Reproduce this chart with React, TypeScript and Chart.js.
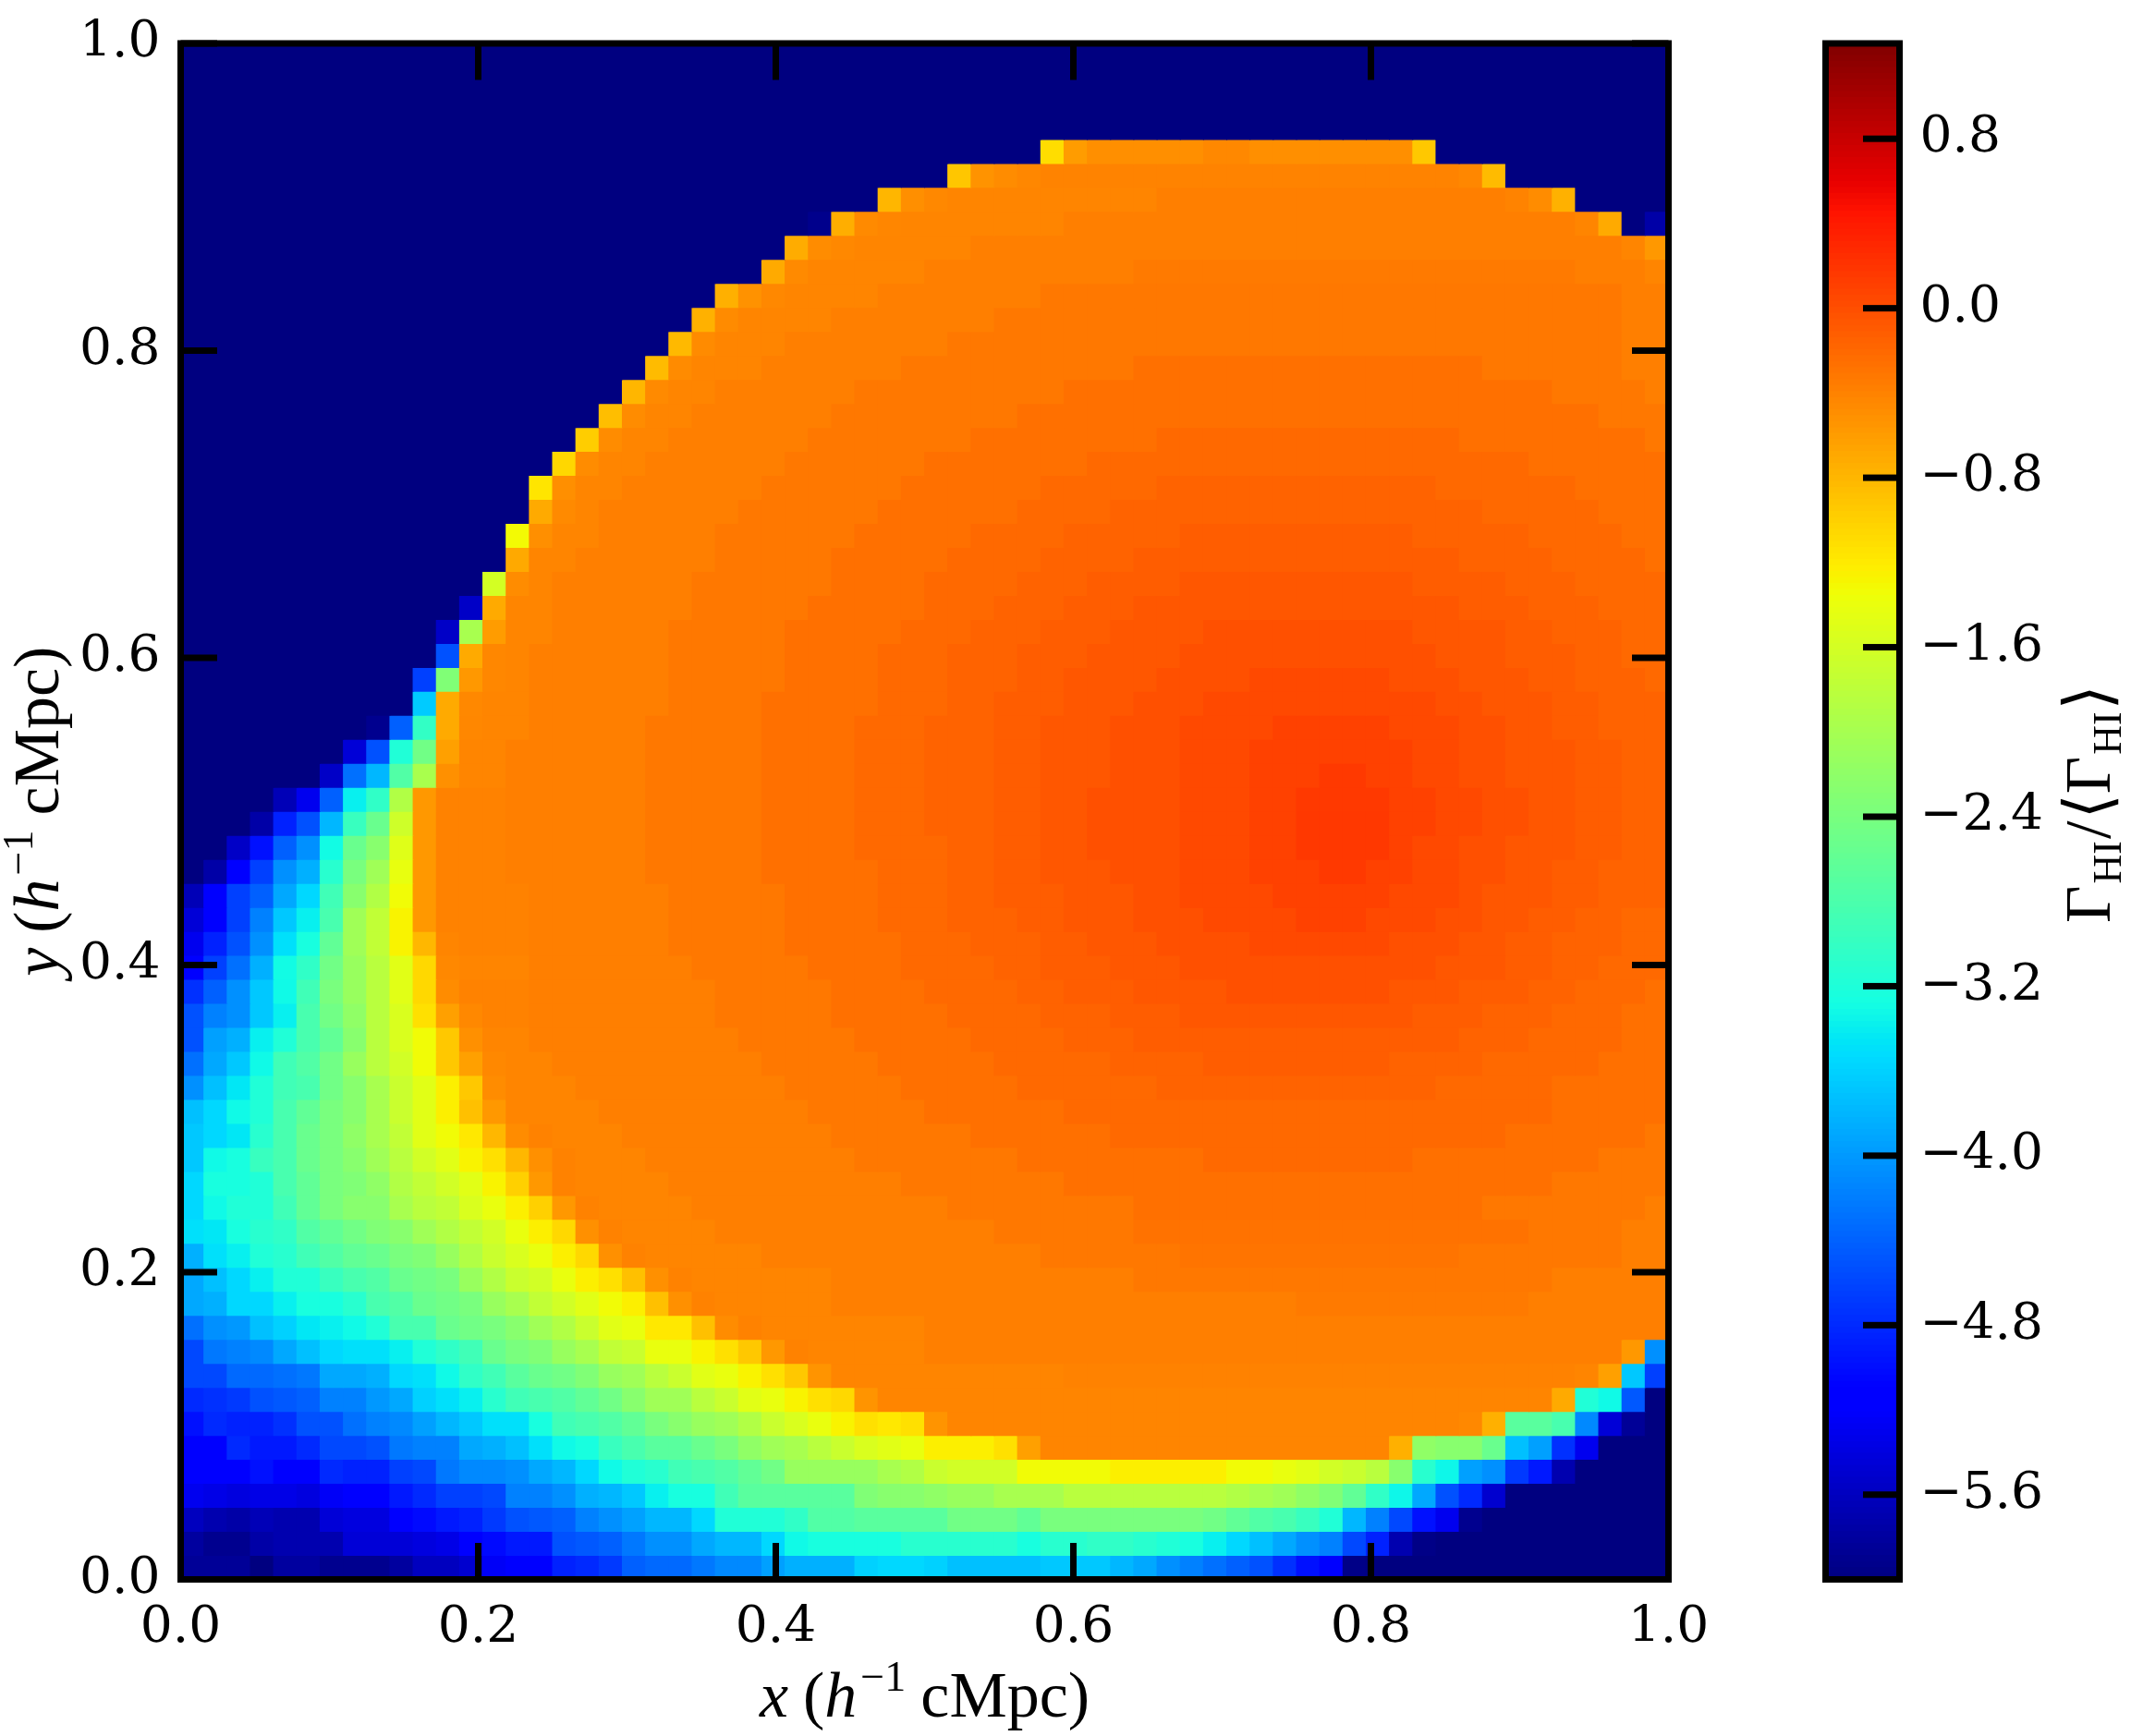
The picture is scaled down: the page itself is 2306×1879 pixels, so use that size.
import React, { useEffect, useRef } from "react";
import { Chart, registerables } from "chart.js";

Chart.register(...registerables);

// Each row runs from y = 1 downwards. A plain number is one cell; [until, v] fills up to column `until`.
// Values are hundredths of the colour-bar unit.
type Run = number | [number, number];
const row00: Run[] = [[64,-600]];
const row01: Run[] = [[64,-600]];
const row02: Run[] = [[64,-600]];
const row03: Run[] = [[64,-600]];
const row04: Run[] = [[37,-600],-110,-60,[44,-50],[46,-45],[53,-50],-94,[64,-600]];
const row05: Run[] = [[33,-600],-92,-53,-48,[37,-44],[55,-41],-44,-84,[64,-600]];
const row06: Run[] = [[30,-600],-80,-50,-45,[42,-42],[57,-38],-41,-48,-76,[64,-600]];
const row07: Run[] = [[27,-600],-592,-74,-46,-43,[38,-42],[60,-38],-42,-71,-600,-575];
const row08: Run[] = [[26,-600],-72,-48,-45,[34,-42],[62,-38],-42,-57];
const row09: Run[] = [[25,-600],-71,-46,[32,-42],[41,-38],[60,-34],[63,-38],-42];
const row10: Run[] = [[23,-600],-75,-52,-45,[30,-42],[37,-38],[62,-32],[64,-38]];
const row11: Run[] = [[22,-600],-76,-47,[28,-42],[35,-38],[62,-32],[64,-38]];
const row12: Run[] = [[21,-600],-82,-47,[26,-42],[33,-38],[62,-32],[64,-38]];
const row13: Run[] = [[20,-600],-84,-47,[25,-42],[31,-38],[41,-32],[56,-26],[62,-32],[64,-38]];
const row14: Run[] = [[19,-600],-80,-46,[23,-42],[29,-38],[38,-32],[59,-26],[63,-32],-38];
const row15: Run[] = [[18,-600],-86,-48,[22,-42],[28,-38],[36,-32],[61,-26],[64,-32]];
const row16: Run[] = [[17,-600],-98,-48,[21,-42],[27,-38],[34,-32],[42,-26],[55,-21],[63,-26],-32];
const row17: Run[] = [[16,-600],-105,-48,[20,-42],[26,-38],[32,-32],[39,-26],[58,-21],[64,-26]];
const row18: Run[] = [[15,-600],-116,-50,[19,-42],[25,-38],[31,-32],[37,-26],[42,-21],[54,-16],[60,-21],[64,-26]];
const row19: Run[] = [[15,-600],-71,-46,[18,-42],[24,-38],[30,-32],[36,-26],[40,-21],[56,-16],[61,-21],[64,-26]];
const row20: Run[] = [[14,-600],-132,-50,[18,-42],[23,-38],[29,-32],[34,-26],[38,-21],[43,-16],[53,-12],[58,-16],[62,-21],[64,-26]];
const row21: Run[] = [[14,-600],-70,[17,-42],[23,-38],[28,-32],[33,-26],[37,-21],[41,-16],[55,-12],[59,-16],[63,-21],-26];
const row22: Run[] = [[13,-600],-160,-48,[16,-42],[22,-38],[28,-32],[32,-26],[36,-21],[39,-16],[43,-12],[53,-7],[57,-12],[60,-16],[64,-21]];
const row23: Run[] = [[12,-600],-555,-71,[16,-42],[22,-38],[27,-32],[32,-26],[35,-21],[38,-16],[41,-12],[55,-7],[58,-12],[61,-16],[64,-21]];
const row24: Run[] = [[11,-600],-555,-198,-60,[16,-42],[21,-38],[26,-32],[31,-26],[34,-21],[37,-16],[40,-12],[44,-7],[53,-2],[57,-7],[59,-12],[62,-16],[64,-21]];
const row25: Run[] = [[11,-600],-452,-71,-44,-42,[21,-38],[26,-32],[30,-26],[33,-21],[36,-16],[39,-12],[43,-7],[54,-2],[57,-7],[60,-12],[62,-16],[64,-21]];
const row26: Run[] = [[10,-600],-464,-233,-57,-44,-42,[21,-38],[26,-32],[30,-26],[33,-21],[36,-16],[38,-12],[42,-7],[46,-2],[52,4],[55,-2],[58,-7],[60,-12],[63,-16],-21];
const row27: Run[] = [[10,-600],-365,-71,-45,[15,-42],[21,-38],[25,-32],[30,-26],[33,-21],[35,-16],[38,-12],[41,-7],[44,-2],[54,4],[56,-2],[59,-7],[61,-12],[64,-16]];
const row28: Run[] = [[8,-600],-590,-441,-302,-71,-44,[15,-42],[20,-38],[25,-32],[29,-26],[32,-21],[35,-16],[37,-12],[40,-7],[43,-2],[47,4],[52,10],[55,4],[57,-2],[59,-7],[61,-12],[64,-16]];
const row29: Run[] = [[7,-600],-545,-452,-318,-247,-63,[14,-42],[20,-38],[25,-32],[29,-26],[32,-21],[35,-16],[37,-12],[40,-7],[43,-2],[46,4],[53,10],[55,4],[57,-2],[60,-7],[62,-12],[64,-16]];
const row30: Run[] = [[6,-600],-555,-430,-379,-275,-197,-51,[14,-42],[20,-38],[25,-32],[29,-26],[32,-21],[35,-16],[37,-12],[40,-7],[43,-2],[46,4],[49,10],[51,16],[53,10],[55,4],[57,-2],[60,-7],[62,-12],[64,-16]];
const row31: Run[] = [[4,-600],-565,-530,-441,-339,-304,-190,-57,[14,-40],[20,-38],[25,-32],[29,-26],[32,-21],[35,-16],[37,-12],[39,-7],[43,-2],[46,4],[48,10],[52,16],[54,10],[56,4],[58,-2],[60,-7],[62,-12],[64,-16]];
const row32: Run[] = [[3,-600],-575,-486,-452,-379,-297,-254,-165,-57,[14,-40],[20,-38],[25,-32],[29,-26],[32,-21],[35,-16],[37,-12],[39,-7],[43,-2],[46,4],[48,10],[52,17],[54,10],[56,4],[58,-2],[60,-7],[62,-12],[64,-16]];
const row33: Run[] = [[2,-600],-555,-498,-441,-407,-330,-254,-226,-150,-57,[14,-40],[20,-38],[25,-32],[29,-26],[33,-21],[35,-16],[37,-12],[39,-7],[43,-2],[46,4],[48,10],[52,17],[53,10],[55,4],[57,-2],[60,-7],[62,-12],[64,-16]];
const row34: Run[] = [[1,-600],-575,-520,-464,-407,-384,-311,-240,-205,-142,-57,[14,-40],[20,-38],[25,-32],[30,-26],[33,-21],[35,-16],[37,-12],[40,-7],[43,-2],[46,4],[49,10],[51,16],[53,10],[55,4],[57,-2],[59,-7],[61,-12],[64,-16]];
const row35: Run[] = [-565,-520,-464,-441,-390,-356,-290,-226,-190,-134,-57,[15,-40],[21,-38],[26,-32],[30,-26],[33,-21],[35,-16],[38,-12],[41,-7],[43,-2],[47,4],[52,10],[55,4],[56,-2],[59,-7],[61,-12],[64,-16]];
const row36: Run[] = [-545,-520,-464,-418,-367,-339,-283,-205,-176,-127,-57,[15,-40],[21,-38],[26,-32],[30,-26],[33,-21],[36,-16],[38,-12],[41,-7],[44,-2],[48,4],[51,10],[54,4],[56,-2],[58,-7],[60,-12],[62,-16],[64,-21]];
const row37: Run[] = [-530,-486,-452,-407,-350,-325,-261,-205,-176,-127,-81,-42,[15,-40],[21,-38],[26,-32],[31,-26],[34,-21],[37,-16],[39,-12],[42,-7],[46,-2],[52,4],[55,-2],[57,-7],[59,-12],[62,-16],[64,-21]];
const row38: Run[] = [-520,-464,-430,-384,-330,-304,-247,-212,-183,-148,-106,-45,[15,-42],[22,-38],[27,-32],[31,-26],[35,-21],[37,-16],[40,-12],[43,-7],[54,-2],[57,-7],[59,-12],[61,-16],[64,-21]];
const row39: Run[] = [-475,-441,-407,-367,-332,-290,-240,-212,-183,-148,-106,-48,-40,[15,-40],[23,-38],[28,-32],[32,-26],[36,-21],[38,-16],[41,-12],[45,-7],[52,-2],[55,-7],[58,-12],[60,-16],[63,-21],-26];
const row40: Run[] = [-452,-418,-407,-367,-339,-283,-247,-219,-183,-155,-112,-63,-45,[15,-40],[23,-38],[28,-32],[33,-26],[37,-21],[40,-16],[43,-12],[53,-7],[56,-12],[59,-16],[62,-21],[64,-26]];
const row41: Run[] = [-452,-396,-384,-339,-318,-283,-261,-226,-183,-155,-134,-94,-51,[15,-42],[24,-38],[29,-32],[34,-26],[38,-21],[41,-16],[55,-12],[58,-16],[62,-21],[64,-26]];
const row42: Run[] = [-430,-390,-367,-332,-290,-275,-247,-212,-183,-162,-134,-94,-63,-45,[16,-42],[25,-38],[30,-32],[35,-26],[40,-21],[44,-16],[52,-12],[56,-16],[61,-21],[64,-26]];
const row43: Run[] = [-407,-373,-345,-318,-290,-283,-247,-226,-198,-169,-148,-124,-94,-48,[17,-42],[26,-38],[31,-32],[36,-26],[42,-21],[54,-16],[59,-21],[64,-26]];
const row44: Run[] = [-373,-356,-332,-318,-283,-261,-240,-226,-198,-169,-148,-124,-88,-57,-42,[18,-42],[27,-38],[32,-32],[38,-26],[59,-21],[64,-26]];
const row45: Run[] = [-367,-356,-345,-311,-283,-254,-240,-219,-198,-176,-148,-134,-118,-81,-48,-40,[19,-42],[28,-38],[34,-32],[40,-26],[57,-21],[63,-26],-32];
const row46: Run[] = [-367,-332,-325,-297,-283,-254,-240,-226,-205,-183,-162,-148,-127,-112,-81,-51,-40,[20,-42],[29,-38],[36,-32],[44,-26],[53,-21],[61,-26],[64,-32]];
const row47: Run[] = [-356,-325,-325,-318,-283,-261,-240,-233,-219,-190,-176,-162,-148,-127,-100,-57,-40,[21,-42],[31,-38],[38,-32],[59,-26],[64,-32]];
const row48: Run[] = [-356,-332,-318,-318,-290,-261,-240,-226,-226,-198,-183,-176,-155,-141,-124,-100,-57,-40,[22,-42],[33,-38],[41,-32],[56,-26],[63,-32],-38];
const row49: Run[] = [-350,-345,-325,-311,-304,-275,-261,-247,-233,-226,-205,-190,-176,-162,-141,-124,-106,-51,-40,[23,-42],[35,-38],[41,-32],[58,-28],[62,-32],[64,-38]];
const row50: Run[] = [-384,-350,-339,-318,-311,-290,-275,-261,-254,-240,-233,-212,-190,-169,-155,-141,-124,-106,-51,-40,[25,-42],[37,-38],[43,-32],[55,-29],[62,-32],[64,-38]];
const row51: Run[] = [-390,-373,-356,-339,-318,-318,-297,-283,-275,-254,-247,-240,-212,-190,-169,-162,-141,-124,-112,-88,-51,-40,[28,-42],[41,-38],[59,-32],[64,-38]];
const row52: Run[] = [-390,-384,-356,-356,-339,-325,-325,-311,-283,-275,-254,-247,-240,-212,-198,-176,-162,-148,-134,-124,-88,-51,-40,[28,-42],[48,-38],[58,-34],[64,-38]];
const row53: Run[] = [-430,-407,-401,-373,-361,-345,-339,-332,-318,-283,-283,-254,-247,-240,-226,-205,-190,-169,-148,-141,-118,-118,-88,-48,-40,[32,-42],[64,-38]];
const row54: Run[] = [-458,-424,-418,-412,-390,-373,-356,-350,-350,-339,-318,-304,-290,-254,-240,-233,-212,-198,-176,-169,-141,-141,-127,-112,-94,-57,-40,[32,-42],[62,-38],-57,-407];
const row55: Run[] = [-458,-458,-435,-435,-430,-424,-390,-390,-384,-356,-350,-332,-304,-290,-268,-254,-247,-233,-212,-205,-183,-169,-148,-141,-127,-112,-94,-54,[38,-42],[60,-40],-42,-63,-367,-464];
const row56: Run[] = [-480,-475,-469,-452,-447,-441,-418,-418,-401,-390,-361,-350,-339,-311,-290,-283,-275,-261,-247,-226,-205,-205,-183,-169,-148,-141,-127,-112,-106,-54,[59,-42],-71,-318,-332,-447,-600];
const row57: Run[] = [-498,-480,-486,-486,-475,-452,-452,-430,-418,-412,-396,-379,-367,-350,-350,-325,-290,-283,-275,-261,-240,-226,-212,-205,-190,-169,-155,-141,-127,-112,-118,-112,-54,-42,[55,-42],-45,-75,-268,-268,-283,-412,-545,-585,-600];
const row58: Run[] = [-520,-520,-480,-492,-492,-480,-458,-458,-452,-424,-418,-418,-390,-384,-373,-350,-332,-325,-297,-283,-268,-268,-254,-240,-219,-205,-198,-183,-169,-155,-148,-141,-124,-124,-124,-112,-63,-42,[52,-42],-75,-219,-226,-226,-254,-373,-396,-475,-530,[64,-600]];
const row59: Run[] = [-520,-520,-520,-498,-510,-510,-480,-486,-486,-464,-458,-424,-412,-412,-407,-390,-379,-356,-332,-318,-311,-290,-283,-275,-261,-247,-212,-212,-212,-212,-198,-190,-169,-162,-162,-162,-134,-134,-134,-134,-124,-124,-124,-124,-124,-134,-134,-141,-148,-162,-169,-183,-226,-311,-334,-396,-407,-469,-492,-570,[64,-600]];
const row60: Run[] = [-530,-535,-540,-535,-535,-540,-525,-520,-520,-492,-480,-464,-464,-458,-418,-418,-407,-384,-379,-367,-339,-325,-325,-290,-268,-268,-268,-268,-268,-233,-226,-226,-219,-212,-212,-198,-198,-198,-183,-183,-183,-183,-183,-183,-183,-190,-198,-205,-219,-233,-261,-304,-334,-390,-452,-480,-550,[64,-600]];
const row61: Run[] = [-560,-570,-575,-565,-570,-570,-545,-540,-540,-520,-503,-492,-486,-469,-452,-447,-441,-418,-407,-395,-379,-379,-356,-318,-318,-318,-304,-275,-275,-268,-268,-268,-268,-247,-247,-247,-261,-240,-240,-240,-240,-240,-240,-240,-247,-261,-275,-283,-297,-318,-379,-418,-458,-498,-530,-590,[64,-600]];
const row62: Run[] = [-580,-590,-590,-575,-570,-570,-570,-545,-545,-545,-540,-535,-520,-503,-492,-492,-452,-447,-441,-424,-407,-407,-390,-379,-379,-356,-332,-325,-325,-325,-325,-311,-311,-311,-311,-311,-325,-311,-311,-304,-304,-311,-318,-325,-339,-356,-373,-390,-407,-418,-458,-486,-570,-595,[64,-600]];
const row63: Run[] = [-585,-585,-585,-600,-580,-580,-590,-590,-590,-580,-560,-560,-550,-525,-520,-520,-486,-480,-469,-441,-435,-435,-424,-412,-412,-396,-384,-384,-384,-361,-356,-356,-361,-373,-373,-373,-373,-367,-367,-367,-379,-390,-407,-418,-430,-441,-452,-475,-498,-520,-595,[64,-600]];

const rowRuns: Run[][] = [
  row00,row01,row02,row03,row04,row05,row06,row07,row08,row09,row10,row11,row12,row13,row14,row15,
  row16,row17,row18,row19,row20,row21,row22,row23,row24,row25,row26,row27,row28,row29,row30,row31,
  row32,row33,row34,row35,row36,row37,row38,row39,row40,row41,row42,row43,row44,row45,row46,row47,
  row48,row49,row50,row51,row52,row53,row54,row55,row56,row57,row58,row59,row60,row61,row62,row63,
];

const axisTicks = [0, 0.2, 0.4, 0.6, 0.8, 1.0];
const cbarTicks = [-5.6, -4.8, -4.0, -3.2, -2.4, -1.6, -0.8, 0.0, 0.8];
const vMin = -6;
const vMax = 1.25;
const GRID = 64;

const W = 2306;
const H = 1879;
const MAIN_W = 1900;
const FONT_TICK = '55px "DejaVu Serif"';
const SERIF = '"Liberation Serif"';

function decode(runs: Run[]): number[] {
  const out: number[] = [];
  for (const r of runs) {
    if (typeof r === "number") out.push(r / 100);
    else while (out.length < r[0]) out.push(r[1] / 100);
  }
  return out.slice(0, GRID);
}

function interp(t: number, pts: number[][]): number {
  for (let i = 1; i < pts.length; i++) {
    if (t <= pts[i][0]) {
      const [a, va] = pts[i - 1];
      const [b, vb] = pts[i];
      return va + ((t - a) / (b - a)) * (vb - va);
    }
  }
  return pts[pts.length - 1][1];
}
const JET_R = [[0, 0], [0.35, 0], [0.66, 1], [0.89, 1], [1, 0.5]];
const JET_G = [[0, 0], [0.125, 0], [0.375, 1], [0.64, 1], [0.91, 0], [1, 0]];
const JET_B = [[0, 0.5], [0.11, 1], [0.34, 1], [0.65, 0], [1, 0]];
function jet(v: number): string {
  const t = Math.max(0, Math.min(1, (v - vMin) / (vMax - vMin)));
  const c = (p: number[][]) => Math.round(255 * interp(t, p));
  return `rgb(${c(JET_R)},${c(JET_G)},${c(JET_B)})`;
}

type Part = { t: string; f: string; dy?: number; dx?: number };
function drawParts(ctx: CanvasRenderingContext2D, parts: Part[], x: number, y: number, rot: boolean) {
  ctx.save();
  ctx.fillStyle = "#000";
  ctx.textBaseline = "alphabetic";
  ctx.textAlign = "left";
  let total = 0;
  for (const p of parts) {
    ctx.font = p.f;
    total += ctx.measureText(p.t).width + (p.dx || 0);
  }
  ctx.translate(x, y);
  if (rot) ctx.rotate(-Math.PI / 2);
  let pos = -total / 2;
  for (const p of parts) {
    ctx.font = p.f;
    pos += p.dx || 0;
    ctx.fillText(p.t, pos, p.dy || 0);
    pos += ctx.measureText(p.t).width;
  }
  ctx.restore();
}

const it = `italic 70px ${SERIF}`;
const rm = `70px ${SERIF}`;
const sup = `46px ${SERIF}`;
const sub = `44px ${SERIF}`;
const positionLabel = (letter: string): Part[] => [
  { t: letter, f: it },
  { t: "(", f: rm, dx: 16 },
  { t: "h", f: it },
  { t: "−1", f: sup, dy: -28, dx: 4 },
  { t: "cMpc)", f: rm, dx: 16 },
];
const cbarLabel: Part[] = [
  { t: "Γ", f: rm },
  { t: "HI", f: sub, dy: 12, dx: 2 },
  { t: "/", f: rm, dx: 2 },
  { t: "⟨", f: `70px "DejaVu Serif"`, dx: 2 },
  { t: "Γ", f: rm },
  { t: "HI", f: sub, dy: 12, dx: 2 },
  { t: "⟩", f: `70px "DejaVu Serif"`, dx: 2 },
];

const LW = 7;
const TICK_LEN = 39.5;

const framePlugin = {
  id: "frame",
  afterDatasetsDraw(chart: any) {
    const { ctx, chartArea: a, scales } = chart;
    ctx.save();
    ctx.fillStyle = "#000";
    for (const t of scales.x.ticks) {
      const p = scales.x.getPixelForValue(t.value);
      ctx.fillRect(p - LW / 2, a.bottom - TICK_LEN, LW, TICK_LEN);
      ctx.fillRect(p - LW / 2, a.top, LW, TICK_LEN);
    }
    for (const t of scales.y.ticks) {
      const p = scales.y.getPixelForValue(t.value);
      ctx.fillRect(a.left, p - LW / 2, TICK_LEN, LW);
      ctx.fillRect(a.right - TICK_LEN, p - LW / 2, TICK_LEN, LW);
    }
    ctx.strokeStyle = "#000";
    ctx.lineWidth = LW;
    ctx.strokeRect(a.left, a.top, a.right - a.left, a.bottom - a.top);
    ctx.restore();
    drawParts(ctx, positionLabel("x"), (a.left + a.right) / 2, 1858, false);
    drawParts(ctx, positionLabel("y"), 63, (a.top + a.bottom) / 2, true);
  },
};

const cbarFrame = {
  id: "cbarFrame",
  afterDatasetsDraw(chart: any) {
    const { ctx, chartArea: a, scales } = chart;
    ctx.save();
    ctx.fillStyle = "#000";
    for (const t of scales.y.ticks) {
      const p = scales.y.getPixelForValue(t.value);
      ctx.fillRect(a.right - TICK_LEN, p - LW / 2, TICK_LEN, LW);
    }
    ctx.strokeStyle = "#000";
    ctx.lineWidth = LW;
    ctx.strokeRect(a.left, a.top, a.right - a.left, a.bottom - a.top);
    ctx.restore();
    drawParts(ctx, cbarLabel, 2283 - MAIN_W, 870, true);
  },
};

export default function App() {
  const mainRef = useRef<HTMLCanvasElement>(null);
  const cbarRef = useRef<HTMLCanvasElement>(null);

  useEffect(() => {
    const datasets = rowRuns.map((runs, r) => {
      const vals = decode(runs);
      return {
        data: vals.map((_, c) => ({ x: (c + 0.5) / GRID, y: [1 - (r + 1) / GRID, 1 - r / GRID] })),
        backgroundColor: vals.map(jet),
        borderWidth: 0,
        inflateAmount: 0.5,
        categoryPercentage: 1,
        barPercentage: 1,
        grouped: false,
      };
    });
    const main = new Chart(mainRef.current!, {
      type: "bar",
      data: { datasets: datasets as any },
      plugins: [framePlugin],
      options: {
        animation: false,
        responsive: false,
        devicePixelRatio: 1,
        events: [],
        layout: { padding: { top: 29.5, right: MAIN_W - 1805.5, left: 0, bottom: 0 } },
        plugins: { legend: { display: false }, tooltip: { enabled: false } },
        scales: {
          x: {
            type: "linear",
            min: 0,
            max: 1,
            offset: false,
            grid: { display: false },
            border: { display: false },
            afterBuildTicks: (s: any) => { s.ticks = axisTicks.map((value) => ({ value })); },
            afterFit: (s: any) => { s.height = H - 1709.5; },
            ticks: {
              color: "#000",
              padding: 12,
              maxRotation: 0,
              autoSkip: false,
              font: { family: "DejaVu Serif", size: 55 },
              callback: (v: any) => Number(v).toFixed(1),
            },
          },
          y: {
            type: "linear",
            min: 0,
            max: 1,
            grid: { display: false },
            border: { display: false },
            afterBuildTicks: (s: any) => { s.ticks = axisTicks.map((value) => ({ value })); },
            afterFit: (s: any) => { s.width = 195.5; },
            ticks: {
              color: "#000",
              padding: 14,
              autoSkip: false,
              font: { family: "DejaVu Serif", size: 55 },
              callback: (v: any) => Number(v).toFixed(1),
            },
          },
        },
      } as any,
    });

    const LEVELS = 256;
    const bands = Array.from({ length: LEVELS }, (_, i) => {
      const lo = vMin + ((vMax - vMin) * i) / LEVELS;
      const hi = vMin + ((vMax - vMin) * (i + 1)) / LEVELS;
      return {
        data: [[lo, hi]],
        backgroundColor: jet((lo + hi) / 2),
        borderWidth: 0,
        inflateAmount: 0.5,
        categoryPercentage: 1,
        barPercentage: 1,
        grouped: false,
      };
    });
    const cbar = new Chart(cbarRef.current!, {
      type: "bar",
      data: { labels: ["Γ"], datasets: bands as any },
      plugins: [cbarFrame],
      options: {
        animation: false,
        responsive: false,
        devicePixelRatio: 1,
        events: [],
        layout: { padding: { top: 29.5, left: 1975.5 - MAIN_W, right: 0, bottom: H - 1709.5 } },
        plugins: { legend: { display: false }, tooltip: { enabled: false } },
        scales: {
          x: { type: "category", display: false },
          y: {
            type: "linear",
            position: "right",
            min: vMin,
            max: vMax,
            grid: { display: false },
            border: { display: false },
            afterBuildTicks: (s: any) => { s.ticks = cbarTicks.map((value) => ({ value })); },
            afterFit: (s: any) => { s.width = W - 2055.5; },
            ticks: {
              color: "#000",
              padding: 14,
              autoSkip: false,
              font: { family: "DejaVu Serif", size: 55 },
              callback: (v: any) => Number(v).toFixed(1).replace("-", "−"),
            },
          },
        },
      } as any,
    });
    return () => {
      main.destroy();
      cbar.destroy();
    };
  }, []);

  return (
    <div style={{ position: "absolute", left: 0, top: 0, width: W, height: H, background: "#fff", overflow: "hidden" }}>
      <canvas ref={mainRef} width={MAIN_W} height={H} style={{ position: "absolute", left: 0, top: 0 }} />
      <canvas ref={cbarRef} width={W - MAIN_W} height={H} style={{ position: "absolute", left: MAIN_W, top: 0 }} />
    </div>
  );
}
